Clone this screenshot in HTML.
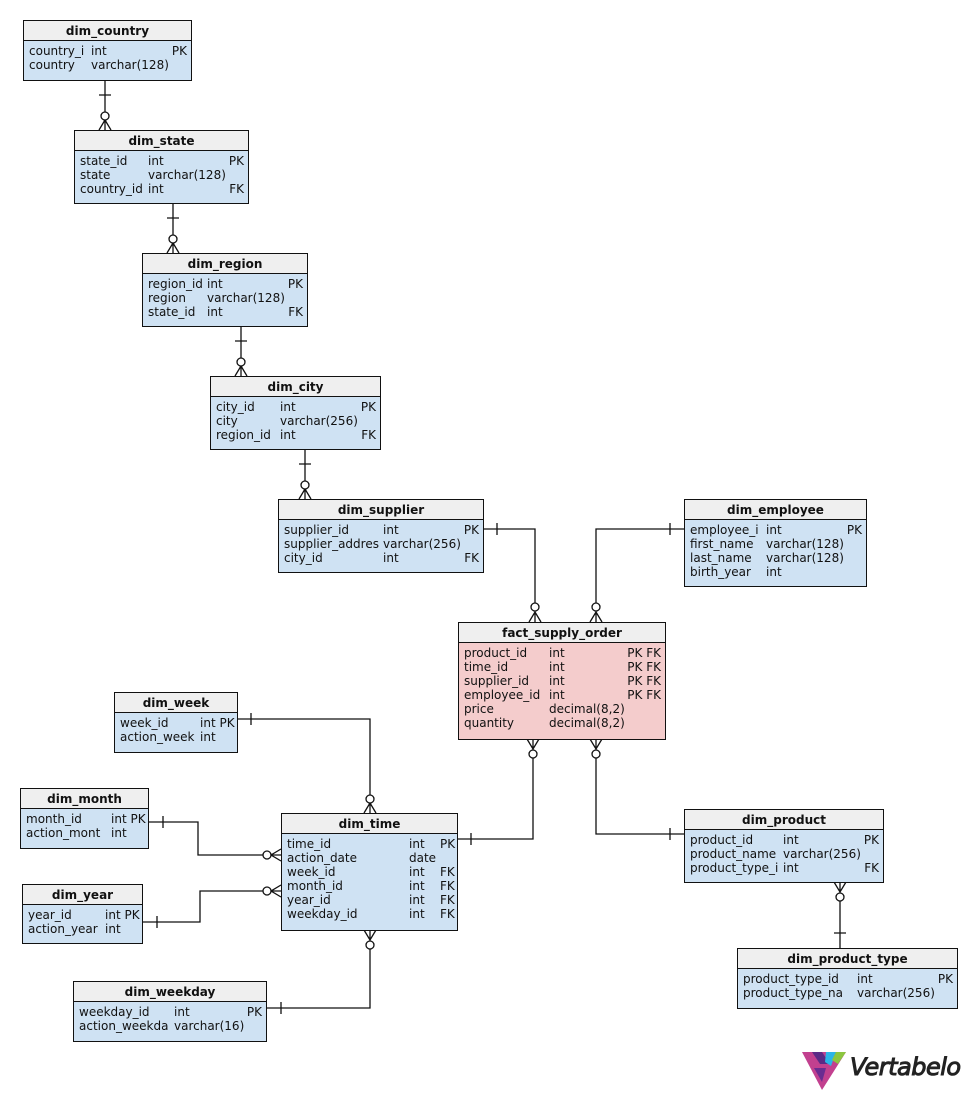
<!DOCTYPE html>
<html><head><meta charset="utf-8"><style>
body{margin:0;width:977px;height:1101px;background:#fff;position:relative;overflow:hidden;font-family:"DejaVu Sans","Liberation Sans",sans-serif;font-size:12px;color:#111}
.t{position:absolute;border:1px solid #111;background:#cfe2f3;box-sizing:border-box}
.t.f{background:#f4cccc}
.h{height:20px;line-height:20px;background:#efefef;border-bottom:1px solid #111;text-align:center;font-weight:bold;box-sizing:border-box}
.b{padding-top:3px}
.r{position:relative;height:14px;line-height:14px;white-space:nowrap}
.r span{position:absolute;top:0}
.r .k{right:4px}
svg{position:absolute;left:0;top:0}
</style></head><body>
<svg width="977" height="1101" stroke="#111" stroke-width="1.3" fill="none">
<path d="M105 80V130M99 95H111M99 130L105 120L111 130M105 120V130"/><circle cx="105" cy="116" r="4" fill="#fff"/>
<path d="M173 203V253M167 218H179M167 253L173 243L179 253"/><circle cx="173" cy="239" r="4" fill="#fff"/>
<path d="M241 326V376M235 341H247M235 376L241 366L247 376"/><circle cx="241" cy="362" r="4" fill="#fff"/>
<path d="M305 449V499M299 464H311M299 499L305 489L311 499"/><circle cx="305" cy="485" r="4" fill="#fff"/>
<path d="M483 529H535V622M497 523V535M529 622L535 612L541 622"/><circle cx="535" cy="607" r="4" fill="#fff"/>
<path d="M684 529H596V622M670 523V535M590 622L596 612L602 622"/><circle cx="596" cy="607" r="4" fill="#fff"/>
<path d="M533 739V839H457M471 833V845M527 739L533 749L539 739"/><circle cx="533" cy="754" r="4" fill="#fff"/>
<path d="M596 739V834H684M670 828V840M590 739L596 749L602 739"/><circle cx="596" cy="754" r="4" fill="#fff"/>
<path d="M237 719H370V813M251 713V725M364 813L370 803L376 813"/><circle cx="370" cy="799" r="4" fill="#fff"/>
<path d="M148 822H198V855H281M163 816V828M281 849L271 855L281 861"/><circle cx="267" cy="855" r="4" fill="#fff"/>
<path d="M142 922H200V891H281M157 916V928M281 885L271 891L281 897"/><circle cx="267" cy="891" r="4" fill="#fff"/>
<path d="M266 1008H370V930M281 1002V1014M364 930L370 940L376 930"/><circle cx="370" cy="945" r="4" fill="#fff"/>
<path d="M840 882V948M834 933H846M834 882L840 892L846 882"/><circle cx="840" cy="897" r="4" fill="#fff"/>
<g stroke="none">
<polygon points="802,1052 846,1052 822,1090" fill="#c2408f"/>
<polygon points="812,1052 822,1052 830,1064 820,1064" fill="#5b2a86"/>
<polygon points="826,1052 836,1052 831,1066 825,1062" fill="#2bb5e8"/>
<polygon points="836,1052 846,1052 838,1064 832,1060" fill="#8cc63f"/>
<polygon points="814,1068 826,1068 822,1082" fill="#6a2c91"/>
</g>
</svg>
<div style="position:absolute;left:850px;top:1053px;font-family:'DejaVu Sans',sans-serif;font-size:24px;font-style:italic;color:#222;letter-spacing:-0.5px;-webkit-text-stroke:1px #222">Vertabelo</div>

<div class="t" style="left:23px;top:20px;width:169px;height:61px"><div class="h">dim_country</div><div class="b">
<div class="r"><span style="left:5px">country_i</span><span style="left:67px">int</span><span class="k">PK</span></div>
<div class="r"><span style="left:5px">country</span><span style="left:67px">varchar(128)</span></div></div></div>

<div class="t" style="left:74px;top:130px;width:175px;height:74px"><div class="h">dim_state</div><div class="b">
<div class="r"><span style="left:5px">state_id</span><span style="left:73px">int</span><span class="k">PK</span></div>
<div class="r"><span style="left:5px">state</span><span style="left:73px">varchar(128)</span></div>
<div class="r"><span style="left:5px">country_id</span><span style="left:73px">int</span><span class="k">FK</span></div></div></div>

<div class="t" style="left:142px;top:253px;width:166px;height:74px"><div class="h">dim_region</div><div class="b">
<div class="r"><span style="left:5px">region_id</span><span style="left:64px">int</span><span class="k">PK</span></div>
<div class="r"><span style="left:5px">region</span><span style="left:64px">varchar(128)</span></div>
<div class="r"><span style="left:5px">state_id</span><span style="left:64px">int</span><span class="k">FK</span></div></div></div>

<div class="t" style="left:210px;top:376px;width:171px;height:74px"><div class="h">dim_city</div><div class="b">
<div class="r"><span style="left:5px">city_id</span><span style="left:69px">int</span><span class="k">PK</span></div>
<div class="r"><span style="left:5px">city</span><span style="left:69px">varchar(256)</span></div>
<div class="r"><span style="left:5px">region_id</span><span style="left:69px">int</span><span class="k">FK</span></div></div></div>

<div class="t" style="left:278px;top:499px;width:206px;height:74px"><div class="h">dim_supplier</div><div class="b">
<div class="r"><span style="left:5px">supplier_id</span><span style="left:104px">int</span><span class="k">PK</span></div>
<div class="r"><span style="left:5px">supplier_addres</span><span style="left:104px">varchar(256)</span></div>
<div class="r"><span style="left:5px">city_id</span><span style="left:104px">int</span><span class="k">FK</span></div></div></div>

<div class="t" style="left:684px;top:499px;width:183px;height:88px"><div class="h">dim_employee</div><div class="b">
<div class="r"><span style="left:5px">employee_i</span><span style="left:81px">int</span><span class="k">PK</span></div>
<div class="r"><span style="left:5px">first_name</span><span style="left:81px">varchar(128)</span></div>
<div class="r"><span style="left:5px">last_name</span><span style="left:81px">varchar(128)</span></div>
<div class="r"><span style="left:5px">birth_year</span><span style="left:81px">int</span></div></div></div>

<div class="t f" style="left:458px;top:622px;width:208px;height:118px"><div class="h">fact_supply_order</div><div class="b">
<div class="r"><span style="left:5px">product_id</span><span style="left:90px">int</span><span class="k">PK FK</span></div>
<div class="r"><span style="left:5px">time_id</span><span style="left:90px">int</span><span class="k">PK FK</span></div>
<div class="r"><span style="left:5px">supplier_id</span><span style="left:90px">int</span><span class="k">PK FK</span></div>
<div class="r"><span style="left:5px">employee_id</span><span style="left:90px">int</span><span class="k">PK FK</span></div>
<div class="r"><span style="left:5px">price</span><span style="left:90px">decimal(8,2)</span></div>
<div class="r"><span style="left:5px">quantity</span><span style="left:90px">decimal(8,2)</span></div></div></div>

<div class="t" style="left:114px;top:692px;width:124px;height:61px"><div class="h">dim_week</div><div class="b">
<div class="r"><span style="left:5px">week_id</span><span style="left:85px">int PK</span></div>
<div class="r"><span style="left:5px">action_week</span><span style="left:85px">int</span></div></div></div>

<div class="t" style="left:20px;top:788px;width:129px;height:61px"><div class="h">dim_month</div><div class="b">
<div class="r"><span style="left:5px">month_id</span><span style="left:90px">int PK</span></div>
<div class="r"><span style="left:5px">action_mont</span><span style="left:90px">int</span></div></div></div>

<div class="t" style="left:281px;top:813px;width:177px;height:118px"><div class="h">dim_time</div><div class="b">
<div class="r"><span style="left:5px">time_id</span><span style="left:127px">int</span><span style="left:158px">PK</span></div>
<div class="r"><span style="left:5px">action_date</span><span style="left:127px">date</span></div>
<div class="r"><span style="left:5px">week_id</span><span style="left:127px">int</span><span style="left:158px">FK</span></div>
<div class="r"><span style="left:5px">month_id</span><span style="left:127px">int</span><span style="left:158px">FK</span></div>
<div class="r"><span style="left:5px">year_id</span><span style="left:127px">int</span><span style="left:158px">FK</span></div>
<div class="r"><span style="left:5px">weekday_id</span><span style="left:127px">int</span><span style="left:158px">FK</span></div></div></div>

<div class="t" style="left:22px;top:884px;width:121px;height:60px"><div class="h">dim_year</div><div class="b">
<div class="r"><span style="left:5px">year_id</span><span style="left:82px">int PK</span></div>
<div class="r"><span style="left:5px">action_year</span><span style="left:82px">int</span></div></div></div>

<div class="t" style="left:73px;top:981px;width:194px;height:61px"><div class="h">dim_weekday</div><div class="b">
<div class="r"><span style="left:5px">weekday_id</span><span style="left:100px">int</span><span class="k">PK</span></div>
<div class="r"><span style="left:5px">action_weekda</span><span style="left:100px">varchar(16)</span></div></div></div>

<div class="t" style="left:684px;top:809px;width:200px;height:74px"><div class="h">dim_product</div><div class="b">
<div class="r"><span style="left:5px">product_id</span><span style="left:98px">int</span><span class="k">PK</span></div>
<div class="r"><span style="left:5px">product_name</span><span style="left:98px">varchar(256)</span></div>
<div class="r"><span style="left:5px">product_type_i</span><span style="left:98px">int</span><span class="k">FK</span></div></div></div>

<div class="t" style="left:737px;top:948px;width:221px;height:61px"><div class="h">dim_product_type</div><div class="b">
<div class="r"><span style="left:5px">product_type_id</span><span style="left:119px">int</span><span class="k">PK</span></div>
<div class="r"><span style="left:5px">product_type_na</span><span style="left:119px">varchar(256)</span></div></div></div>
</body></html>
